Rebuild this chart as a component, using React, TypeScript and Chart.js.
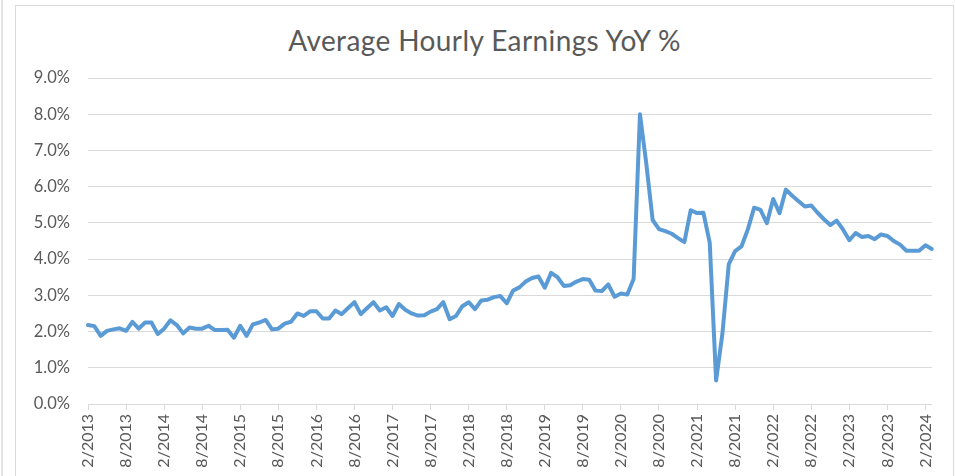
import { useEffect, useRef } from "react";
import { Chart, registerables } from "chart.js";

Chart.register(...registerables);

const TITLE = "Average Hourly Earnings YoY %";

// Monthly values (%), first point is 2/2013, last point is 3/2024
const values2013 = [2.18, 2.15, 1.88, 2.02, 2.06, 2.09, 2.02, 2.27, 2.08, 2.25, 2.25];
const values2014 = [1.93, 2.08, 2.31, 2.18, 1.95, 2.11, 2.08, 2.08, 2.16, 2.04, 2.04, 2.05];
const values2015 = [1.83, 2.16, 1.88, 2.2, 2.25, 2.32, 2.06, 2.08, 2.22, 2.27, 2.5, 2.43];
const values2016 = [2.56, 2.56, 2.36, 2.36, 2.58, 2.48, 2.65, 2.81, 2.48, 2.65, 2.81, 2.58];
const values2017 = [2.67, 2.43, 2.76, 2.6, 2.5, 2.44, 2.45, 2.55, 2.62, 2.81, 2.34, 2.43];
const values2018 = [2.7, 2.81, 2.62, 2.86, 2.88, 2.95, 2.98, 2.78, 3.13, 3.22, 3.38, 3.48];
const values2019 = [3.52, 3.21, 3.62, 3.5, 3.26, 3.28, 3.38, 3.45, 3.43, 3.13, 3.12, 3.3];
const values2020 = [2.96, 3.05, 3.02, 3.45, 8.0, 6.63, 5.08, 4.83, 4.77, 4.7, 4.58, 4.47];
const values2021 = [5.35, 5.27, 5.28, 4.45, 0.65, 1.95, 3.86, 4.22, 4.35, 4.82, 5.42, 5.36];
const values2022 = [4.99, 5.66, 5.27, 5.92, 5.75, 5.6, 5.45, 5.48, 5.28, 5.1, 4.94, 5.06];
const values2023 = [4.82, 4.52, 4.72, 4.61, 4.64, 4.55, 4.68, 4.64, 4.5, 4.4, 4.23, 4.23];
const values2024 = [4.23, 4.38, 4.28];

const tickLabels = [
  "2/2013", "8/2013", "2/2014", "8/2014", "2/2015", "8/2015", "2/2016", "8/2016",
  "2/2017", "8/2017", "2/2018", "8/2018", "2/2019", "8/2019", "2/2020", "8/2020",
  "2/2021", "8/2021", "2/2022", "8/2022", "2/2023", "8/2023", "2/2024",
];

const yTicks = [0, 1, 2, 3, 4, 5, 6, 7, 8, 9];

const values = [
  ...values2013, ...values2014, ...values2015, ...values2016, ...values2017, ...values2018,
  ...values2019, ...values2020, ...values2021, ...values2022, ...values2023, ...values2024,
];

// categories: one per month starting 2/2013
const categories: string[] = values.map((_, i) => {
  const m = ((1 + i) % 12) + 1;
  const y = 2013 + Math.floor((1 + i) / 12);
  return `${m}/${y}`;
});

const TEXT = "#595959";
const GRID = "#d9d9d9";

export default function App() {
  const ref = useRef<HTMLCanvasElement | null>(null);

  useEffect(() => {
    if (!ref.current) return;
    const chart = new Chart(ref.current, {
      type: "line",
      data: {
        labels: categories,
        datasets: [
          {
            data: values,
            borderColor: "#5B9BD5",
            backgroundColor: "#5B9BD5",
            borderWidth: 4,
            pointRadius: 0,
            tension: 0,
            borderCapStyle: "round",
            borderJoinStyle: "round",
            fill: false,
          },
        ],
      },
      options: {
        responsive: false,
        animation: false,
        layout: { padding: { left: 0, right: 23, top: 78, bottom: 0 } },
        plugins: {
          legend: { display: false },
          tooltip: { enabled: false },
          title: { display: false },
        },
        scales: {
          x: {
            type: "category",
            offset: false,
            grid: {
              drawOnChartArea: false,
              drawTicks: true,
              tickLength: 6,
              color: GRID,
              tickColor: (ctx: any) =>
                tickLabels.includes(categories[ctx.index]) ? GRID : "rgba(0,0,0,0)",
            },
            border: { display: true, color: GRID, width: 1 },
            ticks: {
              autoSkip: false,
              minRotation: 90,
              maxRotation: 90,
              padding: 4,
              color: TEXT,
              font: { family: "Lato", size: 16 },
              callback: (_v: any, index: number) =>
                tickLabels.includes(categories[index]) ? categories[index] : "",
            },
            afterFit: (s: any) => {
              s.height = 72;
            },
          },
          y: {
            min: yTicks[0],
            max: yTicks[yTicks.length - 1],
            ticks: {
              stepSize: 1,
              padding: 18,
              color: TEXT,
              font: { family: "Lato", size: 16.5 },
              callback: (v: any) => Number(v).toFixed(1) + "%",
            },
            grid: { color: GRID, drawTicks: false, lineWidth: 1 },
            border: { display: false },
            afterFit: (s: any) => {
              s.width = 88;
            },
          },
        },
      },
    } as any);
    return () => chart.destroy();
  }, []);

  return (
    <div
      style={{
        position: "fixed",
        left: 0,
        top: 0,
        width: 955,
        height: 476,
        background: "#ffffff",
        overflow: "hidden",
      }}
    >
      <div
        style={{
          position: "absolute",
          left: 1,
          top: 0,
          width: 2,
          height: 476,
          background: "#e4e4e4",
        }}
      />
      <div
        style={{
          position: "absolute",
          left: 15,
          top: 5,
          width: 939,
          height: 520,
          boxSizing: "border-box",
          border: "1px solid #d9d9d9",
        }}
      />
      <div
        style={{
          position: "absolute",
          left: 15,
          top: 23,
          width: 939,
          height: 34,
          lineHeight: "34px",
          textAlign: "center",
          fontFamily: "Lato",
          fontSize: 28,
          letterSpacing: "0.4px",
          color: TEXT,
          whiteSpace: "nowrap",
        }}
      >
        {TITLE}
      </div>
      <canvas
        ref={ref}
        width={955}
        height={476}
        style={{ position: "absolute", left: 0, top: 0, display: "block" }}
      />
    </div>
  );
}
